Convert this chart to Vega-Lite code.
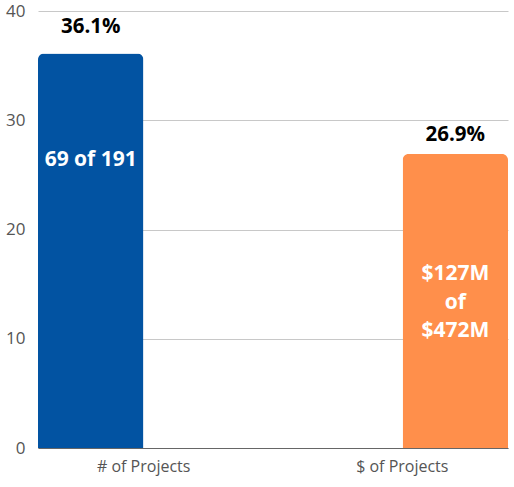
{
  "$schema": "https://vega.github.io/schema/vega-lite/v6.json",
  "autosize": "none",
  "width": 470,
  "height": 437,
  "padding": {"left": 38, "top": 11, "right": 6, "bottom": 39},
  "config": {"font": "Open Sans", "view": {"stroke": null}},
  "data": {"values": [
    {"category": "# of Projects", "pct": 36.1, "top": "36.1%", "inner": ["69 of 191"]},
    {"category": "$ of Projects", "pct": 26.9, "top": "26.9%", "inner": ["$127M", "of", "$472M"]}
  ]},
  "encoding": {
    "x": {"field": "category", "type": "nominal", "sort": null,
      "scale": {"paddingInner": 0.711, "paddingOuter": 0},
      "axis": {"title": null, "labelAngle": 0, "labelFontSize": 16, "labelColor": "#555", "labelPadding": 10, "ticks": false, "domainColor": "#666", "domainWidth": 1.2, "labelFont": "Open Sans",
        "labelOffset": {"expr": "datum.value === '# of Projects' ? 53 : -53"}}},
    "y": {"field": "pct", "type": "quantitative",
      "scale": {"domain": [0, 40]},
      "axis": {"title": null, "values": [0, 10, 20, 30, 40], "domain": false, "ticks": false, "gridColor": "#c8c8c8", "labelFontSize": 17, "labelColor": "#555", "labelPadding": 13, "labelFont": "Open Sans"}}
  },
  "layer": [
    {"mark": {"type": "bar", "cornerRadiusTopLeft": 6, "cornerRadiusTopRight": 6},
     "encoding": {"color": {"field": "category", "type": "nominal", "legend": null, "scale": {"domain": ["# of Projects", "$ of Projects"], "range": ["#0253a2", "#ff8f4b"]}}}},
    {"transform": [{"filter": "datum.category === '# of Projects'"}],
     "mark": {"type": "text", "fontWeight": "bold", "fontSize": 20.5, "color": "#000", "baseline": "alphabetic", "dy": -21},
     "encoding": {"text": {"field": "top"}}},
    {"transform": [{"filter": "datum.category === '$ of Projects'"}],
     "mark": {"type": "text", "fontWeight": "bold", "fontSize": 20.5, "color": "#000", "baseline": "alphabetic", "dy": -13},
     "encoding": {"text": {"field": "top"}}},
    {"transform": [{"filter": "datum.category === '# of Projects'"}],
     "mark": {"type": "text", "fontWeight": "bold", "fontSize": 21, "color": "#fff", "baseline": "middle", "dy": 106},
     "encoding": {"text": {"field": "inner"}}},
    {"transform": [{"filter": "datum.category === '$ of Projects'"}],
     "mark": {"type": "text", "fontWeight": "bold", "fontSize": 21, "color": "#fff", "baseline": "middle", "lineHeight": 28.5, "dy": 120},
     "encoding": {"text": {"field": "inner"}}}
  ]
}
